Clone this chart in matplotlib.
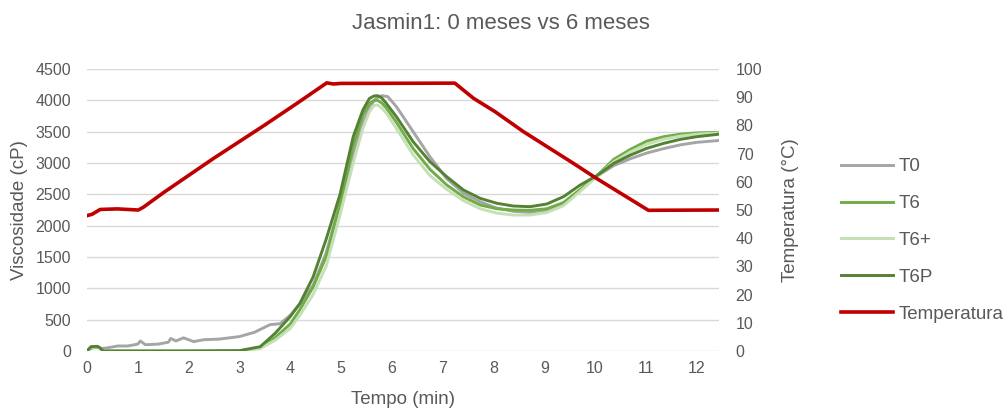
import matplotlib.pyplot as plt

plt.rcParams['font.family'] = ['Liberation Sans', 'DejaVu Sans']

# ---- data ----
title = "Jasmin1: 0 meses vs 6 meses"

# T0 (noisy baseline, own time base)
t_T0 = [0, 0.08, 0.15, 0.3, 0.4, 0.6, 0.8, 1.0, 1.05, 1.15, 1.4, 1.6, 1.65, 1.75,
        1.9, 2.1, 2.3, 2.6, 3.0, 3.3, 3.5, 3.6, 3.8, 4.0, 4.2, 4.45, 4.7, 4.98,
        5.24, 5.43, 5.56, 5.7, 5.8, 5.92, 6.09, 6.42, 6.75, 7.08, 7.41, 7.74, 8.07,
        8.39, 8.72, 9.05, 9.38, 9.71, 10.04, 10.37, 10.7, 11.02, 11.35, 11.68, 12.0, 12.44]
v_T0 = [0, 40, 60, 40, 50, 80, 80, 110, 160, 100, 110, 140, 200, 160,
        210, 150, 180, 190, 230, 300, 380, 420, 435, 570, 760, 1050, 1550, 2350,
        3150, 3650, 3900, 4040, 4075, 4060, 3900, 3500, 3100, 2750, 2520, 2380, 2280,
        2230, 2210, 2250, 2350, 2560, 2790, 2960, 3070, 3160, 3230, 3290, 3330, 3360]

# green series share a time base
t_g = [0, 0.08, 0.2, 0.25, 0.32, 1, 2, 3.0, 3.41, 3.7, 4.0, 4.19, 4.45, 4.71,
       4.98, 5.24, 5.43, 5.56, 5.65, 5.72, 5.8, 5.89, 6.09, 6.42, 6.75, 7.08, 7.41,
       7.74, 8.07, 8.39, 8.72, 9.05, 9.38, 9.71, 10.04, 10.37, 10.7, 11.02, 11.35,
       11.68, 12.0, 12.44]
v_T6 = [0, 60, 70, 50, 0, 0, 0, 5, 50, 210, 430, 660, 1020, 1510,
        2350, 3280, 3770, 3950, 4000, 4000, 3960, 3880, 3650, 3230, 2900, 2650, 2460,
        2330, 2270, 2250, 2245, 2270, 2370, 2580, 2800, 3060, 3220, 3350, 3420,
        3460, 3480, 3490]
v_T6p = [0, 60, 70, 50, 0, 0, 0, 0, 40, 170, 360, 570, 900, 1360,
         2170, 3000, 3550, 3820, 3920, 3926, 3880, 3800, 3550, 3130, 2800, 2580, 2400,
         2270, 2200, 2170, 2170, 2210, 2320, 2550, 2790, 3020, 3180, 3300, 3380,
         3430, 3460, 3480]
v_T6P = [0, 70, 75, 55, 0, 0, 0, 5, 69, 280, 548, 760, 1180, 1790,
         2500, 3420, 3846, 4032, 4070, 4075, 4040, 3953, 3740, 3340, 3022, 2782, 2570,
         2436, 2357, 2314, 2303, 2346, 2463, 2650, 2800, 2995, 3128, 3235, 3314,
         3378, 3420, 3460]

# temperature (secondary axis)
t_temp = [0, 0.1, 0.26, 0.6, 1.01, 1.11, 1.5, 2.49, 3.47, 4.13, 4.72, 4.85,
          5.0, 7.24, 7.61, 8.03, 8.59, 9.57, 10.03, 11.05, 12.44]
temp = [48.0, 48.5, 50.2, 50.4, 50.0, 51.0, 56.1, 68.3, 79.8, 87.8, 95.1, 94.7,
        94.9, 95.0, 89.6, 84.9, 77.8, 66.6, 61.2, 49.9, 50.0]

xticks = list(range(0, 13))
yticks_left = list(range(0, 4501, 500))
yticks_right = list(range(0, 101, 10))

gray_txt = '#595959'

fig = plt.figure(figsize=(10.07, 4.09), dpi=100)
ax = fig.add_axes([0.0864, 0.1418, 0.6276, 0.6894])
ax2 = ax.twinx()

ax.plot(t_T0, v_T0, color='#A5A5A5', lw=2.1, label='T0')
ax.plot(t_g, v_T6, color='#70AD47', lw=2.1, label='T6')
ax.plot(t_g, v_T6p, color='#C5E0B4', lw=2.1, label='T6+')
ax.plot(t_g, v_T6P, color='#548235', lw=2.1, label='T6P')
ax2.plot(t_temp, temp, color='#C00000', lw=2.6, label='Temperatura')

ax.set_xlim(0, 12.44)
ax.set_ylim(0, 4500)
ax2.set_ylim(0, 100)
ax.set_xticks(xticks)
ax.set_yticks(yticks_left)
ax2.set_yticks(yticks_right)

ax.grid(axis='y', color='#D9D9D9', lw=1.0)
ax.set_axisbelow(True)
for a in (ax, ax2):
    for s in a.spines.values():
        s.set_visible(False)
    a.tick_params(length=0, labelsize=11.5, labelcolor=gray_txt)
ax.tick_params(axis='x', pad=7)
ax.tick_params(axis='y', pad=11.5)
ax2.tick_params(axis='y', pad=12)

ax.set_xlabel('Tempo (min)', fontsize=13.5, color=gray_txt, labelpad=11)
ax.set_ylabel('Viscosidade (cP)', fontsize=13.5, color=gray_txt, labelpad=5)
ax2.set_ylabel('Temperatura (°C)', fontsize=13.5, color=gray_txt, labelpad=14)

fig.suptitle(title, x=0.497, y=0.968, fontsize=16, color=gray_txt)

handles = ax.get_lines() + ax2.get_lines()
leg = fig.legend(handles, [h.get_label() for h in handles], loc='center left',
                 bbox_to_anchor=(0.835, 0.412), frameon=False, fontsize=13.5,
                 labelspacing=1.05, handlelength=2.8, handletextpad=0.3,
                 labelcolor=gray_txt, borderaxespad=0, borderpad=0)

fig.savefig('out.png', dpi=100)
